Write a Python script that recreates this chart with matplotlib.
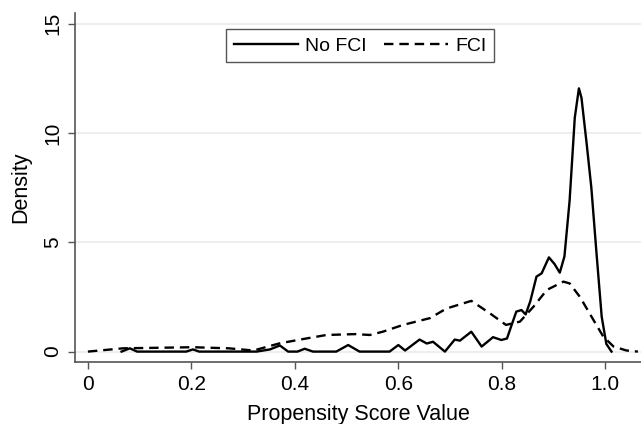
import matplotlib
matplotlib.use("Agg")
import matplotlib.pyplot as plt

plt.rcParams['font.family'] = ['Liberation Sans', 'DejaVu Sans']

# No FCI (solid) density curve
nofci_x = [0.065, 0.081, 0.095, 0.19, 0.203, 0.215, 0.326, 0.352, 0.371, 0.387,
           0.405, 0.419, 0.435, 0.48, 0.503, 0.525, 0.583, 0.6, 0.613, 0.641,
           0.655, 0.667, 0.69, 0.709, 0.719, 0.741, 0.761, 0.783, 0.799, 0.81,
           0.819, 0.828, 0.838, 0.846, 0.855, 0.867, 0.877, 0.891, 0.902, 0.912,
           0.921, 0.931, 0.941, 0.949, 0.954, 0.964, 0.973, 0.983, 0.993, 1.002,
           1.012]
nofci_y = [0.0, 0.15, 0.0, 0.0, 0.1, 0.0, 0.0, 0.1, 0.28, 0.0,
           0.0, 0.13, 0.0, 0.0, 0.3, 0.0, 0.0, 0.3, 0.05, 0.55,
           0.37, 0.45, 0.0, 0.55, 0.5, 0.91, 0.23, 0.66, 0.53, 0.6,
           1.22, 1.83, 1.9, 1.7, 2.3, 3.43, 3.58, 4.31, 4.0, 3.61,
           4.35, 6.9, 10.7, 12.04, 11.6, 9.5, 7.5, 4.5, 1.6, 0.35,
           0.0]

# FCI (dashed) density curve
fci_x = [0.0, 0.068, 0.203, 0.272, 0.32, 0.371, 0.422, 0.461, 0.517, 0.545,
         0.57, 0.609, 0.661, 0.693, 0.741, 0.777, 0.808, 0.835, 0.861, 0.887,
         0.919, 0.931, 0.951, 0.977, 0.996, 1.016, 1.041, 1.063]
fci_y = [0.0, 0.15, 0.2, 0.15, 0.05, 0.38, 0.6, 0.76, 0.8, 0.76,
         0.91, 1.22, 1.53, 1.97, 2.32, 1.75, 1.22, 1.37, 2.05, 2.82,
         3.2, 3.12, 2.5, 1.45, 0.69, 0.23, 0.05, 0.0]

xticks = [0, 0.2, 0.4, 0.6, 0.8, 1.0]
xticklabels = ['0', '0.2', '0.4', '0.6', '0.8', '1.0']
yticks = [0, 5, 10, 15]

fig = plt.figure(figsize=(6.41, 4.24), dpi=100)
ax = fig.add_axes([0.117, 0.1455, 0.883, 0.8245])

for yv in yticks:
    ax.axhline(yv, color='#ebebeb', lw=1.2, zorder=0)

ax.plot(nofci_x, nofci_y, color='black', lw=1.7, label='No FCI', solid_joinstyle='round')
ax.plot(fci_x, fci_y, color='black', lw=1.7, ls=(0, (4, 2.5)), label='FCI')

ax.set_xlim(-0.025, 1.069)
ax.set_ylim(-0.49, 15.5)
ax.set_xticks(xticks)
ax.set_xticklabels(xticklabels)
ax.set_yticks(yticks)
ax.set_yticklabels([str(v) for v in yticks], rotation=90, va='center')
ax.tick_params(axis='both', direction='out', length=5, width=1, color='#555555',
               labelsize=15, pad=4)

for s in ['top', 'right']:
    ax.spines[s].set_visible(False)
for s in ['left', 'bottom']:
    ax.spines[s].set_color('#555555')
    ax.spines[s].set_linewidth(1.2)

ax.set_xlabel('Propensity Score Value', fontsize=15.5, labelpad=7)
ax.set_ylabel('Density', fontsize=15.5, labelpad=9)

leg = ax.legend(loc='upper center', bbox_to_anchor=(0.504, 0.953), ncol=2,
                fontsize=14, handlelength=3.3, columnspacing=0.9, handletextpad=0.35,
                borderpad=0.4, borderaxespad=0, fancybox=False, framealpha=1,
                edgecolor='#555555')
leg.get_frame().set_linewidth(1.0)

plt.savefig('out.png', dpi=100)
